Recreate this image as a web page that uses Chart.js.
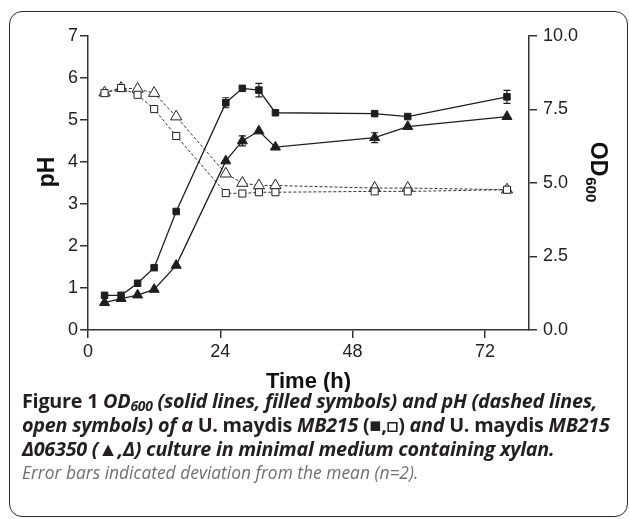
<!DOCTYPE html>
<html>
<head>
<meta charset="utf-8">
<script src="https://cdn.jsdelivr.net/npm/chart.js@4.4.1/dist/chart.umd.min.js"></script>
<style>
  html, body { margin: 0; padding: 0; background: #fff; }
  body { width: 629px; height: 519px; position: relative; overflow: hidden; }
  #frame {
    position: absolute; left: 9px; top: 11px; width: 619px; height: 506px;
    box-sizing: border-box; border: 1.5px solid #2b2b2b; border-radius: 13px;
  }
  #plot { position: absolute; left: 0; top: 0; }
  #caption {
    position: absolute; left: 22px; top: 389px;
    font-family: "Open Sans", Lato, sans-serif; font-size: 19.8px; color: #231f20;
    line-height: 24px; white-space: nowrap; letter-spacing: -0.25px;
  }
  #caption b { font-weight: 700; }
  #caption .bi { font-weight: 700; font-style: italic; }
  #caption sub { font-size: 0.7em; line-height: 0; vertical-align: -0.25em; }
  #caption .note { font-style: italic; color: #707070; font-weight: 400; font-size: 17.4px; letter-spacing: 0; line-height: 22px; }
</style>
</head>
<body>
<div id="frame"></div>
<canvas id="plot" width="629" height="392"></canvas>
<div id="caption">
  <div><b>Figure 1</b> <span class="bi">OD<sub>600</sub> (solid lines, filled symbols) and pH (dashed lines,</span></div>
  <div><span class="bi">open symbols) of a</span> <b>U. maydis</b> <span class="bi">MB215</span> <b>(■,□)</b> <span class="bi">and</span> <b>U. maydis</b> <span class="bi">MB215</span></div>
  <div><span class="bi">Δ06350 (</span><b>▲</b><span class="bi">,Δ) culture in minimal medium containing xylan.</span></div>
  <div class="note">Error bars indicated deviation from the mean (n=2).</div>
</div>
<script>
// sampling times (h)
const hours = [3, 6, 9, 12, 16, 25, 28, 31, 34, 52, 58, 76];

// OD600, filled symbols
const odMB215 = [1.18, 1.18, 1.59, 2.12, 4.03, 7.73, 8.22, 8.16, 7.39, 7.36, 7.26, 7.93];
const odMB215Err = [0, 0, 0, 0, 0, 0.17, 0, 0.23, 0, 0, 0, 0.22];
const odD06350 = [0.93, 1.07, 1.19, 1.38, 2.20, 5.75, 6.43, 6.77, 6.22, 6.54, 6.92, 7.26];
const odD06350Err = [0, 0, 0, 0, 0, 0, 0.17, 0, 0, 0.17, 0, 0];

// pH, open symbols
const phMB215 = [5.64, 5.76, 5.60, 5.26, 4.62, 3.26, 3.25, 3.28, 3.28, 3.30, 3.30, 3.34];
const phD06350 = [5.65, 5.76, 5.74, 5.64, 5.08, 3.72, 3.50, 3.44, 3.44, 3.38, 3.38, 3.34];

// axis ticks
const timeTicks = [0, 24, 48, 72];
const phTicks = [0, 1, 2, 3, 4, 5, 6, 7];
const odTicks = [0, 2.5, 5, 7.5, 10];

const ink = '#1e1e1e';
Chart.defaults.font.family = '"Liberation Sans", Arial, sans-serif';
Chart.defaults.color = '#222';

function pts(vals) {
    return hours.map((h, i) => ({ x: h, y: vals[i] }));
}

// error bars, drawn through the dataset's own y scale
const errorBars = {
    id: 'errorBars',
    afterDatasetsDraw(chart) {
        const ctx = chart.ctx;
        const xs = chart.scales.x;
        chart.data.datasets.forEach(ds => {
            if (!ds.errors) return;
            const ys = chart.scales[ds.yAxisID];
            ctx.save();
            ctx.strokeStyle = ink;
            ctx.lineWidth = 1.2;
            ds.errors.forEach((e, i) => {
                if (!e) return;
                const px = xs.getPixelForValue(ds.data[i].x);
                const top = ys.getPixelForValue(ds.data[i].y + e);
                const bot = ys.getPixelForValue(ds.data[i].y - e);
                ctx.beginPath();
                ctx.moveTo(px, top); ctx.lineTo(px, bot);
                ctx.moveTo(px - 3.5, top); ctx.lineTo(px + 3.5, top);
                ctx.moveTo(px - 3.5, bot); ctx.lineTo(px + 3.5, bot);
                ctx.stroke();
            });
            ctx.restore();
        });
    }
};

// axis titles (OD600 needs a subscript)
const axisTitles = {
    id: 'axisTitles',
    afterDraw(chart) {
        const ctx = chart.ctx;
        const area = chart.chartArea;
        const midY = (area.top + area.bottom) / 2 - 11;
        ctx.save();
        ctx.fillStyle = '#111';
        ctx.textBaseline = 'middle';

        // pH
        ctx.save();
        ctx.translate(48, midY);
        ctx.rotate(-Math.PI / 2);
        ctx.font = 'bold 23px "Liberation Sans", Arial, sans-serif';
        ctx.textAlign = 'center';
        ctx.fillText('pH', 0, 0);
        ctx.restore();

        // OD600
        ctx.save();
        ctx.translate(597, midY);
        ctx.rotate(Math.PI / 2);
        ctx.font = 'bold 23px "Liberation Sans", Arial, sans-serif';
        const wOD = ctx.measureText('OD').width;
        ctx.font = 'bold 15px "Liberation Sans", Arial, sans-serif';
        const wSub = ctx.measureText('600').width;
        const x0 = -(wOD + wSub + 1) / 2;
        ctx.textAlign = 'left';
        ctx.font = 'bold 23px "Liberation Sans", Arial, sans-serif';
        ctx.fillText('OD', x0, 0);
        ctx.font = 'bold 15px "Liberation Sans", Arial, sans-serif';
        ctx.fillText('600', x0 + wOD + 1, 7);
        ctx.restore();

        // Time (h)
        ctx.font = 'bold 22px "Liberation Sans", Arial, sans-serif';
        ctx.textAlign = 'center';
        ctx.fillText('Time (h)', (area.left + area.right) / 2, 382);
        ctx.restore();
    }
};

const axisLine = { color: '#333', width: 1.5 };
const tickMarks = { drawOnChartArea: false, drawTicks: true, tickLength: 8, color: '#333', lineWidth: 1.5 };

new Chart(document.getElementById('plot'), {
    type: 'line',
    data: {
        datasets: [
            {
                label: 'OD600 MB215', data: pts(odMB215), errors: odMB215Err, yAxisID: 'y1',
                borderColor: ink, borderWidth: 1.3, pointStyle: 'rect', pointRadius: 4.6,
                pointBackgroundColor: ink, pointBorderColor: ink, pointBorderWidth: 1
            },
            {
                label: 'OD600 MB215 Δ06350', data: pts(odD06350), errors: odD06350Err, yAxisID: 'y1',
                borderColor: ink, borderWidth: 1.3, pointStyle: 'triangle', pointRadius: 5.8,
                pointBackgroundColor: ink, pointBorderColor: ink, pointBorderWidth: 1
            },
            {
                label: 'pH MB215', data: pts(phMB215), yAxisID: 'y',
                borderColor: '#333', borderWidth: 1, borderDash: [3, 2], pointStyle: 'rect', pointRadius: 5,
                pointBackgroundColor: '#fff', pointBorderColor: '#222', pointBorderWidth: 1
            },
            {
                label: 'pH MB215 Δ06350', data: pts(phD06350), yAxisID: 'y',
                borderColor: '#333', borderWidth: 1, borderDash: [3, 2], pointStyle: 'triangle', pointRadius: 6.5,
                pointBackgroundColor: '#fff', pointBorderColor: '#222', pointBorderWidth: 1
            }
        ]
    },
    options: {
        responsive: false,
        animation: false,
        events: [],
        layout: { padding: { top: 36, left: 0, right: 0, bottom: 0 } },
        elements: { line: { tension: 0 } },
        plugins: { legend: { display: false }, tooltip: { enabled: false } },
        scales: {
            x: {
                type: 'linear', min: 0, max: 80,
                afterBuildTicks: s => { s.ticks = timeTicks.map(v => ({ value: v })); },
                afterFit: s => { s.height = 62; },
                grid: tickMarks, border: axisLine,
                ticks: { padding: 3, font: { size: 18 } }
            },
            y: {
                position: 'left', min: 0, max: 7,
                afterBuildTicks: s => { s.ticks = phTicks.map(v => ({ value: v })); },
                afterFit: s => { s.width = 88; },
                grid: tickMarks, border: axisLine,
                ticks: { padding: 2, font: { size: 18 } }
            },
            y1: {
                position: 'right', min: 0, max: 10,
                afterBuildTicks: s => { s.ticks = odTicks.map(v => ({ value: v })); },
                afterFit: s => { s.width = 100; },
                grid: tickMarks, border: axisLine,
                ticks: { padding: 6, font: { size: 18 }, callback: v => v.toFixed(1) }
            }
        }
    },
    plugins: [errorBars, axisTitles]
});
</script>
</body>
</html>
